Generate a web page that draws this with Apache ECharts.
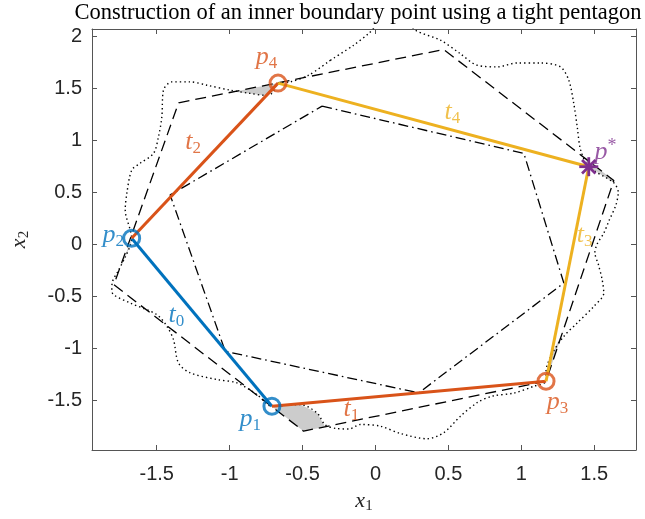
<!DOCTYPE html>
<html><head><meta charset="utf-8">
<script src="https://cdn.jsdelivr.net/npm/echarts@6/dist/echarts.min.js"></script>
<style>html,body{margin:0;padding:0;background:#fff}#c{width:645px;height:519px}</style>
</head><body><div id="c"></div>
<script>
// ---- tick values ----
const xTicks = [-1.5, -1, -0.5, 0, 0.5, 1, 1.5];
const yTicks = [-1.5, -1, -0.5, 0, 0.5, 1, 1.5, 2];

// ---- key points ----
const p1 = [-0.71, -1.556];
const p2 = [-1.672, 0.058];
const p3 = [1.170, -1.316];
const p4 = [-0.668, 1.548];
const pStar = [1.463, 0.745];

// ---- dotted boundary curve ----
const boundaryCurve = [
  [-0.309,1.768],[-0.150,1.912],[-0.047,2.024],[0.07,2.17],[0.20,2.17],[0.274,2.056],[0.445,1.961],
  [0.581,1.832],[0.697,1.720],[0.835,1.704],[0.972,1.742],[1.132,1.742],[1.269,1.704],[1.326,1.576],
  [1.360,1.353],[1.384,1.128],[1.407,0.908],[1.463,0.745],[1.635,0.59],[1.665,0.50],[1.650,0.38],
  [1.60,0.22],[1.566,0.106],[1.52,0.0],[1.505,-0.08],[1.53,-0.2],[1.555,-0.341],[1.566,-0.469],
  [1.498,-0.597],[1.384,-0.756],[1.292,-0.885],[1.215,-1.044],[1.17,-1.22],[1.170,-1.316],
  [1.087,-1.364],[0.949,-1.430],[0.80,-1.46],[0.70,-1.52],[0.583,-1.652],[0.468,-1.811],
  [0.354,-1.869],[0.171,-1.818],[0.034,-1.748],[-0.104,-1.732],[-0.180,-1.775],[-0.27,-1.77],
  [-0.345,-1.735],[-0.401,-1.620],[-0.515,-1.540],[-0.71,-1.556],[-0.813,-1.444],[-0.950,-1.332],
  [-1.087,-1.300],[-1.270,-1.236],[-1.351,-1.140],[-1.385,-0.917],[-1.430,-0.789],[-1.499,-0.677],
  [-1.682,-0.565],[-1.797,-0.485],[-1.808,-0.437],[-1.806,-0.373],[-1.760,-0.245],[-1.714,-0.118],
  [-1.680,-0.006],[-1.672,0.058],[-1.716,0.330],[-1.705,0.490],[-1.671,0.713],[-1.614,0.778],
  [-1.522,0.873],[-1.488,1.033],[-1.465,1.224],[-1.454,1.480],[-1.396,1.560],[-1.270,1.560],
  [-1.156,1.528],[-0.996,1.480],[-0.859,1.449],[-0.767,1.432],[-0.710,1.449],[-0.668,1.548],
  [-0.584,1.560],[-0.458,1.624],[-0.309,1.768]
];

// ---- dashed outer polygon ----
const outerPolygon = [
  [-1.350,1.359],[0.468,1.871],[1.635,0.613],[1.170,-1.316],[-0.493,-1.796],[-1.794,-0.389],[-1.350,1.359]
];

// ---- dash-dot inner polygon ----
const innerPolygon = [
  [-0.366,1.327],[1.018,0.873],[1.292,-0.373],[0.297,-1.428],[-1.030,-1.029],[-1.408,0.474],[-0.366,1.327]
];

// ---- gray shaded slivers ----
const shadeP4 = [[-0.97,1.465],[-0.668,1.548],[-0.710,1.449],[-0.767,1.432],[-0.859,1.449]];
const shadeP1 = [[-0.71,-1.556],[-0.493,-1.796],[-0.345,-1.753],[-0.401,-1.620],[-0.515,-1.540]];
const shadeP2 = [[-1.672,0.058],[-1.742,-0.2],[-1.714,-0.118],[-1.680,-0.006]];
const shadeP3 = [[1.170,-1.316],[1.292,-0.82],[1.215,-1.044],[1.17,-1.22]];
const shadeStar = [[1.434,0.830],[1.463,0.745],[1.635,0.59],[1.635,0.613]];

// ---- label anchors ----
const labelNames = ['p4','t2','p2','t0','p1','t1','p3','t3','t4','p*'];
const labelPos = [[-0.748,1.797],[-1.250,0.982],[-1.798,0.09],[-1.365,-0.685],[-0.858,-1.682],
                  [-0.165,-1.587],[1.249,-1.520],[1.434,0.09],[0.528,1.27],[1.578,0.887]];

const BLUE = '#0072BD', ORANGE = '#D95319', YELLOW = '#EDB120', PURPLE = '#7E2F8E';
const labelColors = {p1:BLUE,p2:BLUE,t0:BLUE,p3:ORANGE,p4:ORANGE,t1:ORANGE,t2:ORANGE,t3:YELLOW,t4:YELLOW,'p*':PURPLE};

const segments = [
  {name:'t0', pts:[p2,p1], color:BLUE},
  {name:'t1', pts:[p1,p3], color:ORANGE},
  {name:'t2', pts:[p2,p4], color:ORANGE},
  {name:'t3', pts:[p3,pStar], color:YELLOW},
  {name:'t4', pts:[p4,pStar], color:YELLOW}
];

const SERIF = '"Liberation Serif","Times New Roman",serif';
const SANS = '"Liberation Sans",Arial,Helvetica,sans-serif';
const AXC = '#262626';
const BOXC = '#555555';

function shadeSeries(pts) {
  return {
    type:'custom', coordinateSystem:'cartesian2d', z:1, silent:true, clip:true,
    data: pts,
    renderItem: function(params, api) {
      if (params.dataIndex !== 0) return null;
      return {type:'polygon', shape:{points: pts.map(p => api.coord(p))},
              style:{fill:'#cccccc', stroke:null}};
    }
  };
}

function richLabel(name) {
  const letter = name[0], rest = name.slice(1);
  if (rest === '*') return '{m|' + letter + '}{u|*}';
  return '{m|' + letter + '}{s|' + rest + '}';
}

const richStyles = {
  m: {fontFamily: SERIF, fontStyle:'italic', fontSize:26, lineHeight:30},
  s: {fontFamily: SERIF, fontSize:17, lineHeight:17, verticalAlign:'bottom'},
  u: {fontFamily: SERIF, fontSize:18, lineHeight:19, verticalAlign:'top'}
};

const series = [];
[shadeP4, shadeP1, shadeP2, shadeP3, shadeStar].forEach(s => series.push(shadeSeries(s)));

series.push({type:'line', data: boundaryCurve, showSymbol:false, smooth:0.3, z:2, silent:true,
  lineStyle:{color:'#000', width:1.4, type:[1.4,3], cap:'butt'}});
series.push({type:'line', data: outerPolygon, showSymbol:false, z:2, silent:true,
  lineStyle:{color:'#000', width:1.3, type:[11,6], cap:'butt'}});
series.push({type:'line', data: innerPolygon, showSymbol:false, z:2, silent:true,
  lineStyle:{color:'#000', width:1.3, type:[10,4,1.6,4], cap:'butt'}});

segments.forEach(sg => series.push({type:'line', data: sg.pts, showSymbol:false, z:3, silent:true,
  lineStyle:{color: sg.color, width:3}}));

series.push({type:'scatter', z:4, silent:true, symbol:'circle', symbolSize:16,
  data:[
    {value:p1, itemStyle:{color:'rgba(0,0,0,0)', borderColor:BLUE, borderWidth:3}},
    {value:p2, itemStyle:{color:'rgba(0,0,0,0)', borderColor:BLUE, borderWidth:3}},
    {value:p3, itemStyle:{color:'rgba(0,0,0,0)', borderColor:ORANGE, borderWidth:3}},
    {value:p4, itemStyle:{color:'rgba(0,0,0,0)', borderColor:ORANGE, borderWidth:3}}
  ]});

series.push({type:'custom', coordinateSystem:'cartesian2d', z:4, silent:true, data:[pStar],
  renderItem: function(params, api) {
    const c = api.coord([api.value(0), api.value(1)]);
    const r = 9.5, d = r * 0.7071;
    const st = {stroke: PURPLE, lineWidth: 2.8};
    return {type:'group', children:[
      {type:'line', shape:{x1:c[0]-r, y1:c[1], x2:c[0]+r, y2:c[1]}, style:st},
      {type:'line', shape:{x1:c[0], y1:c[1]-r, x2:c[0], y2:c[1]+r}, style:st},
      {type:'line', shape:{x1:c[0]-d, y1:c[1]-d, x2:c[0]+d, y2:c[1]+d}, style:st},
      {type:'line', shape:{x1:c[0]-d, y1:c[1]+d, x2:c[0]+d, y2:c[1]-d}, style:st}
    ]};
  }});

series.push({type:'scatter', z:5, silent:true, symbolSize:0,
  data: labelNames.map((n, i) => ({value: labelPos[i],
    label:{show:true, position:'inside', formatter: richLabel(n), color: labelColors[n], rich: richStyles}}))
});

const axisCommon = {
  type:'value', splitLine:{show:false},
  axisLine:{show:true, onZero:false, lineStyle:{color:BOXC, width:1}},
};
const nameRich = {m:{fontFamily:SERIF, fontStyle:'italic', fontSize:22, lineHeight:26},
                  s:{fontFamily:SERIF, fontSize:15, lineHeight:14, verticalAlign:'bottom'}};

const option = {
  animation:false,
  backgroundColor:'#fff',
  title:{text:'Construction of an inner boundary point using a tight pentagon', left:358, top:2, padding:0,
    textAlign:'center', textStyle:{fontFamily:SERIF, fontSize:22.5, fontWeight:'normal', color:'#000'}},
  grid:{left:92, right:9, top:29, bottom:69, containLabel:false},
  xAxis:[
    Object.assign({}, axisCommon, {position:'bottom', min:-1.944, max:1.787,
      axisTick:{show:true, inside:true, length:5, customValues:xTicks, lineStyle:{color:BOXC}},
      axisLabel:{show:true, customValues:xTicks, margin:14, fontFamily:SANS, fontSize:20, color:AXC},
      name:'{m|x}{s|1}', nameLocation:'middle', nameGap:38,
      nameTextStyle:{color:AXC, rich:nameRich}}),
    Object.assign({}, axisCommon, {position:'top', min:-1.944, max:1.787,
      axisTick:{show:true, inside:true, length:5, customValues:xTicks, lineStyle:{color:BOXC}},
      axisLabel:{show:false, customValues:xTicks}})
  ],
  yAxis:[
    Object.assign({}, axisCommon, {position:'left', min:-1.977, max:2.068,
      axisTick:{show:true, inside:true, length:5, customValues:yTicks, lineStyle:{color:BOXC}},
      axisLabel:{show:true, customValues:yTicks, margin:10, fontFamily:SANS, fontSize:20, color:AXC},
      name:'{m|x}{s|2}', nameLocation:'middle', nameGap:60, nameRotate:90,
      nameTextStyle:{color:AXC, rich:nameRich}}),
    Object.assign({}, axisCommon, {position:'right', min:-1.977, max:2.068,
      axisTick:{show:true, inside:true, length:5, customValues:yTicks, lineStyle:{color:BOXC}},
      axisLabel:{show:false, customValues:yTicks}})
  ],
  series: series
};

const chart = echarts.init(document.getElementById('c'), null, {renderer:'canvas'});
chart.setOption(option);
</script>
</body></html>
